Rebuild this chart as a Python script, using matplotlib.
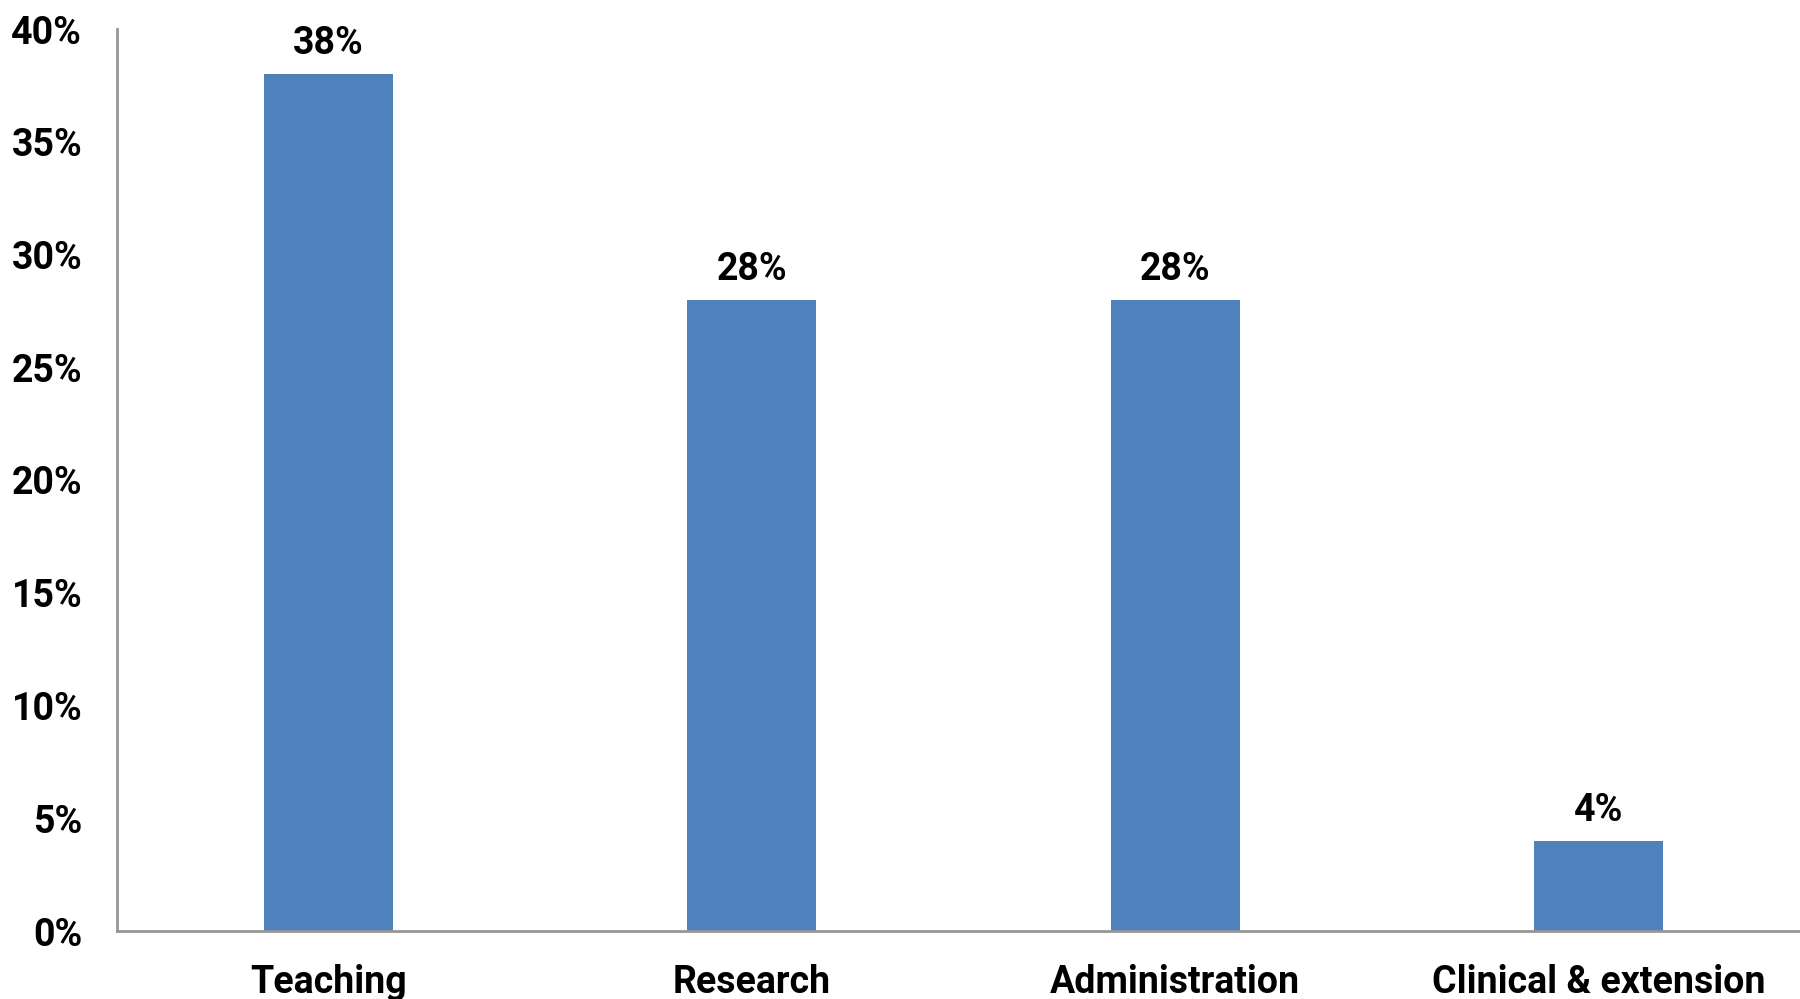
import matplotlib
matplotlib.use("Agg")
import matplotlib.pyplot as plt
from matplotlib.ticker import FuncFormatter, MultipleLocator

categories = ["Teaching", "Research", "Administration", "Clinical & extension"]
values = [38, 28, 28, 4]

plt.rcParams['font.family'] = ['Roboto', 'DejaVu Sans']
plt.rcParams['font.weight'] = 'bold'

fig = plt.figure(figsize=(18, 9.99), dpi=100)
ax = fig.add_axes([117/1800, 1 - 931/999, (1810 - 117)/1800, (931 - 29)/999])

x = list(range(len(categories)))
bars = ax.bar(x, values, width=0.305, color="#4F81BD", zorder=2)

ax.set_xlim(-0.5, 3.5)
ax.set_ylim(0, 40)
ax.yaxis.set_major_locator(MultipleLocator(5))
ax.yaxis.set_major_formatter(FuncFormatter(lambda v, p: f"{int(v)}%"))
ax.set_xticks(x)
ax.set_xticklabels(categories)

for s in ["top", "right"]:
    ax.spines[s].set_visible(False)
for s in ["left", "bottom"]:
    ax.spines[s].set_color("#969696")
    ax.spines[s].set_linewidth(2)

ax.tick_params(axis="both", length=0, labelsize=27)
ax.tick_params(axis="y", pad=25)
ax.tick_params(axis="x", pad=24)
for lbl in ax.get_xticklabels() + ax.get_yticklabels():
    lbl.set_fontweight("bold")

for b, v in zip(bars, values):
    ax.annotate(f"{v}%", (b.get_x() + b.get_width()/2, v), xytext=(0, 8.5),
                textcoords="offset points", ha="center", va="bottom",
                fontsize=27, fontweight="bold")

fig.savefig("out.png", dpi=100)
